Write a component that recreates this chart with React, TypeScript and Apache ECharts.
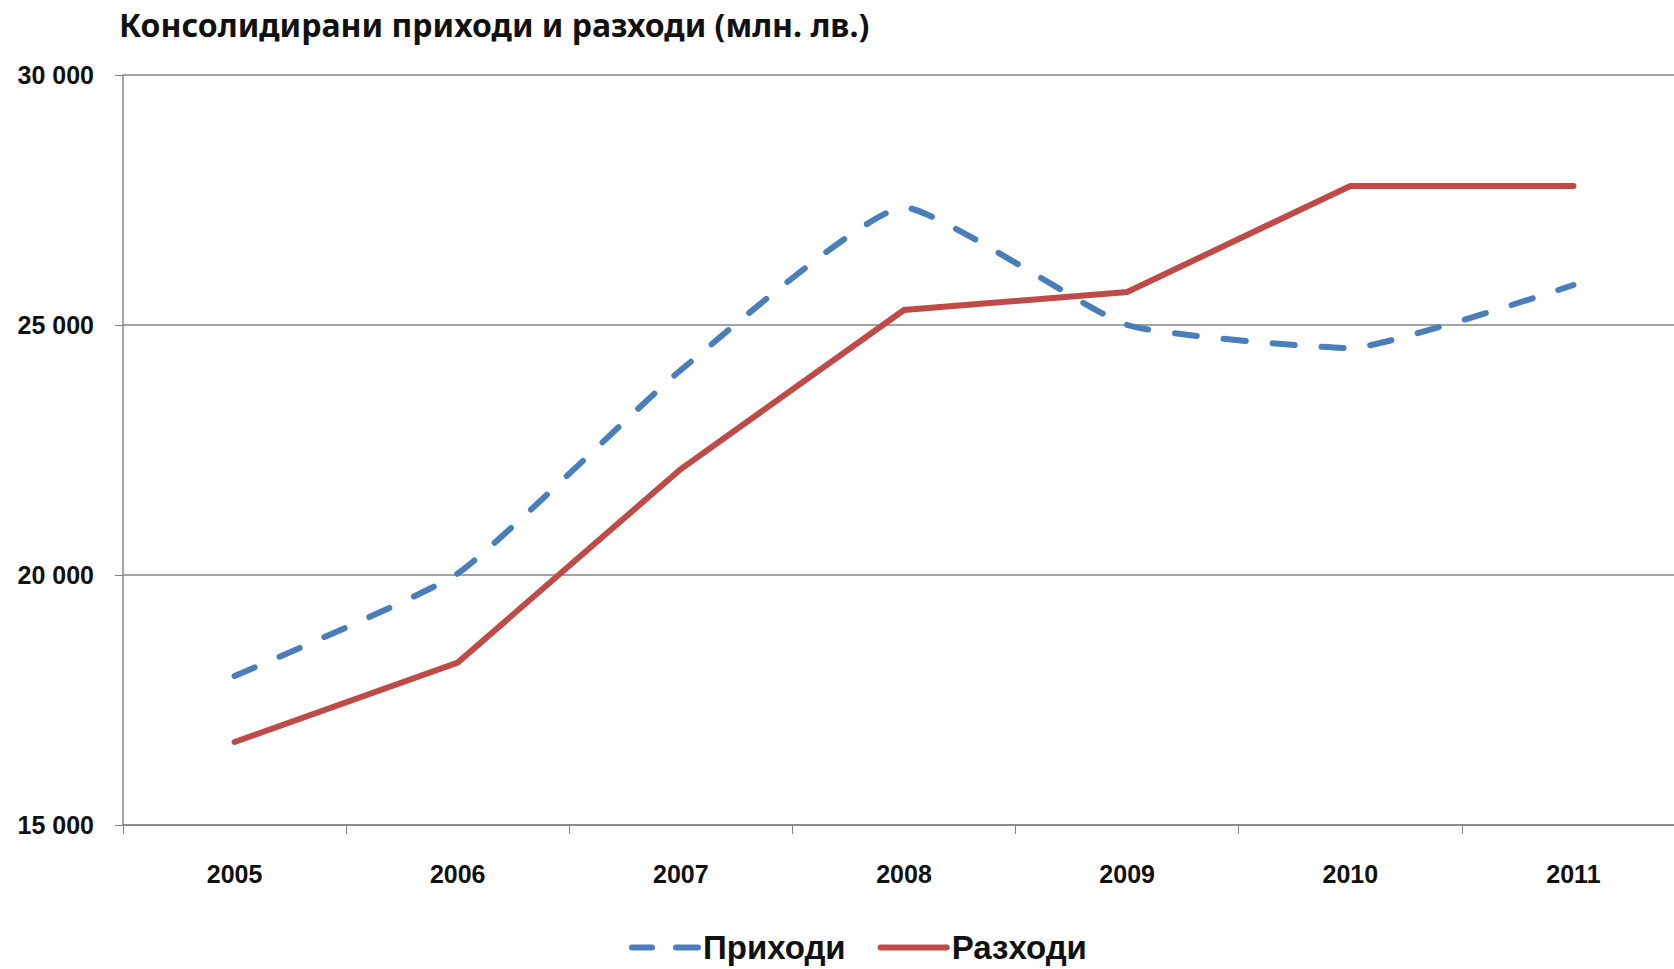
import React, { useEffect, useRef } from "react";
import * as echarts from "echarts";

const years = ["2005", "2006", "2007", "2008", "2009", "2010", "2011"];
const income = [17980, 20030, 24100, 27350, 25000, 24540, 25800];
const expense = [16660, 18250, 22120, 25300, 25660, 27780, 27780];
const seriesNames = ["Приходи", "Разходи"];
const titleText = "Консолидирани приходи и разходи (млн. лв.)";

const BLUE = "#4A7EBB";
const RED = "#BE4B48";
const FONT = "'Liberation Sans Narrow', 'Arial Narrow', 'Liberation Sans', Arial, sans-serif";

const dashedIcon = "path://M3,0 H23 A3,3 0 0 1 23,6 H3 A3,3 0 0 1 3,0 Z M47,0 H69 A3,3 0 0 1 69,6 H47 A3,3 0 0 1 47,0 Z";
const solidIcon = "path://M3,0 H69 A3,3 0 0 1 69,6 H3 A3,3 0 0 1 3,0 Z";

export default function App() {
  const ref = useRef<HTMLDivElement>(null);
  useEffect(() => {
    document.body.style.margin = "0";
    const chart = echarts.init(ref.current!, null, { renderer: "svg" });
    chart.setOption({
      animation: false,
      backgroundColor: "#ffffff",
      title: {
        text: titleText,
        left: 114,
        top: 3,
        textStyle: {
          fontFamily: "'Noto Sans', sans-serif",
          fontWeight: "bold",
          fontSize: 32,
          color: "#111111",
        },
      },
      legend: {
        data: [
          { name: seriesNames[0], icon: dashedIcon },
          { name: seriesNames[1], icon: solidIcon },
        ],
        left: 624,
        bottom: 0,
        itemWidth: 72,
        itemHeight: 20,
        itemGap: 32,
        textStyle: {
          fontFamily: FONT,
          fontWeight: "bold",
          fontSize: 33,
          color: "#111111",
          padding: [0, 0, 0, -3],
        },
      },
      grid: { left: 123, right: 5, top: 75, height: 750 },
      xAxis: {
        type: "category",
        data: years,
        boundaryGap: true,
        axisLine: { lineStyle: { color: "#868686", width: 1.5 } },
        axisTick: { show: true, length: 9, lineStyle: { color: "#868686", width: 1 } },
        axisLabel: {
          margin: 36,
          fontFamily: FONT,
          fontWeight: "bold",
          fontSize: 25,
          color: "#111111",
        },
        splitLine: { show: false },
      },
      yAxis: {
        type: "value",
        min: 15000,
        max: 30000,
        interval: 5000,
        axisLine: { show: true, lineStyle: { color: "#868686", width: 1.5 } },
        axisTick: { show: true, length: 8, lineStyle: { color: "#868686", width: 1 } },
        axisLabel: {
          margin: 29,
          fontFamily: FONT,
          fontWeight: "bold",
          fontSize: 25,
          color: "#111111",
          formatter: (v: number) => String(v).replace(/\B(?=(\d{3})+(?!\d))/g, " "),
        },
        splitLine: { show: true, lineStyle: { color: "#868686", width: 1.5 } },
      },
      series: [
        {
          name: seriesNames[0],
          type: "line",
          data: income,
          smooth: 0.15,
          symbol: "none",
          lineStyle: { color: BLUE, width: 6, type: [22, 27], cap: "round", join: "round" },
          itemStyle: { color: BLUE },
        },
        {
          name: seriesNames[1],
          type: "line",
          data: expense,
          symbol: "none",
          lineStyle: { color: RED, width: 6, type: "solid", cap: "round", join: "miter" },
          itemStyle: { color: RED },
        },
      ],
    });
    return () => chart.dispose();
  }, []);
  return (
    <div style={{ width: 1674, height: 969, overflow: "hidden", position: "relative" }}>
      <div ref={ref} style={{ width: 1690, height: 969 }} />
    </div>
  );
}
